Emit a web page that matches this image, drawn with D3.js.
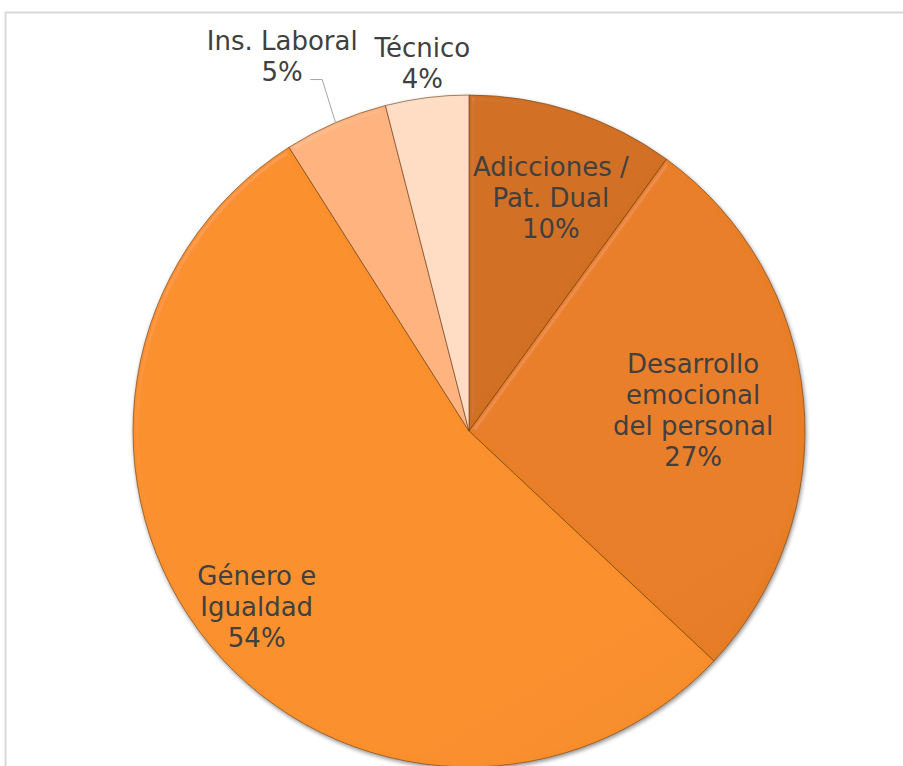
<!DOCTYPE html>
<html>
<head>
<meta charset="utf-8">
<script src="https://cdn.jsdelivr.net/npm/d3@7"></script>
<style>
  body { margin: 0; background: #fff; }
  text { font-family: "DejaVu Sans", Verdana, sans-serif; fill: #404040; }
</style>
</head>
<body>
<script>
const categories = ["Adicciones / Pat. Dual", "Desarrollo emocional del personal", "Género e Igualdad", "Ins. Laboral", "Técnico"];
const values = [10, 27, 54, 5, 4];
const labelLines = [["Adicciones /", "Pat. Dual"], ["Desarrollo", "emocional", "del personal"], ["Género e", "Igualdad"], ["Ins. Laboral"], ["Técnico"]];
const colors = ["#c6691f", "#dc7723", "#ee882a", "#f4aa78", "#fbd1b9"];

const width = 903, height = 766;
const cx = 469, cy = 431, radius = 336;

const svg = d3.select("body").append("svg")
  .attr("width", width)
  .attr("height", height);

// chart frame
svg.append("rect")
  .attr("x", 5.5).attr("y", 12.5)
  .attr("width", width + 10).attr("height", height + 10)
  .attr("fill", "none")
  .attr("stroke", "#d9d9d9")
  .attr("stroke-width", 2);

const defs = svg.append("defs");

const shadow = defs.append("filter").attr("id", "shadow")
  .attr("x", "-10%").attr("y", "-10%").attr("width", "120%").attr("height", "120%");
shadow.append("feGaussianBlur").attr("in", "SourceAlpha").attr("stdDeviation", 2).attr("result", "b");
shadow.append("feOffset").attr("in", "b").attr("dx", 1).attr("dy", 2).attr("result", "o");
shadow.append("feComponentTransfer").attr("in", "o").attr("result", "s")
  .append("feFuncA").attr("type", "linear").attr("slope", 0.45);
const sm = shadow.append("feMerge");
sm.append("feMergeNode").attr("in", "s");
sm.append("feMergeNode").attr("in", "SourceGraphic");

// soft bevel on each slice
const bevel = defs.append("filter").attr("id", "bevel")
  .attr("x", "-5%").attr("y", "-5%").attr("width", "110%").attr("height", "110%");
bevel.append("feGaussianBlur").attr("in", "SourceAlpha").attr("stdDeviation", 2.5).attr("result", "blur");
bevel.append("feSpecularLighting").attr("in", "blur").attr("surfaceScale", 4)
  .attr("specularConstant", 0.6).attr("specularExponent", 30)
  .attr("lighting-color", "#ffffff").attr("result", "spec")
  .append("feDistantLight").attr("azimuth", 225).attr("elevation", 40);
bevel.append("feComposite").attr("in", "spec").attr("in2", "SourceAlpha")
  .attr("operator", "in").attr("result", "specIn");
bevel.append("feComposite").attr("in", "SourceGraphic").attr("in2", "specIn")
  .attr("operator", "arithmetic").attr("k1", 0).attr("k2", 1).attr("k3", 0.12).attr("k4", 0);

colors.forEach((c, i) => {
  const g = defs.append("linearGradient").attr("id", "grad" + i)
    .attr("gradientUnits", "userSpaceOnUse")
    .attr("x1", cx - radius * 0.6).attr("y1", cy - radius)
    .attr("x2", cx + radius * 0.6).attr("y2", cy + radius);
  g.append("stop").attr("offset", "0%").attr("stop-color", d3.color(c).brighter(0.15));
  g.append("stop").attr("offset", "100%").attr("stop-color", d3.color(c).darker(0.15));
});

const pie = d3.pie().sort(null).value(d => d);
const arcs = pie(values);

const arc = d3.arc().innerRadius(0).outerRadius(radius);

const g = svg.append("g")
  .attr("transform", "translate(" + cx + "," + cy + ")");

const slices = g.append("g").attr("filter", "url(#shadow)");
slices.selectAll("path")
  .data(arcs)
  .enter().append("path")
  .attr("d", arc)
  .attr("fill", (d, i) => "url(#grad" + i + ")")
  .attr("stroke", "#6b3a12")
  .attr("stroke-opacity", 0.6)
  .attr("stroke-width", 1)
  .attr("filter", "url(#bevel)");

// label placement: radius factor and nudge for each slice's text
const labelR = [0.73, 0.67, 0.82, 1.25, 1.11];
const nudge = [[6, 0], [0, 0], [0, 0], [-20, 11], [0, 2]];
const lineH = 31;
const fmt = d => d + "%";
const centers = [];

arcs.forEach((d, i) => {
  const mid = (d.startAngle + d.endAngle) / 2;
  const x = Math.sin(mid) * radius * labelR[i] + nudge[i][0];
  const y = -Math.cos(mid) * radius * labelR[i] + nudge[i][1];
  centers.push([x, y]);
  const lines = labelLines[i].concat([fmt(values[i])]);
  const t = g.append("text")
    .attr("text-anchor", "middle")
    .attr("font-size", 26);
  const y0 = y - (lines.length - 1) * lineH / 2;
  lines.forEach((l, j) => {
    t.append("tspan").attr("x", x).attr("y", y0 + j * lineH).attr("dy", "0.36em").text(l);
  });
});

// leader line for Ins. Laboral
const ins = arcs[3];
const insMid = (ins.startAngle + ins.endAngle) / 2;
const px = Math.sin(insMid) * radius, py = -Math.cos(insMid) * radius;
const [lx, ly] = centers[3];
g.append("polyline")
  .attr("points", [[lx + 28, ly + 23], [lx + 40, ly + 23], [px, py]].map(p => p.join(",")).join(" "))
  .attr("fill", "none")
  .attr("stroke", "#a6a6a6")
  .attr("stroke-width", 1);
</script>
</body>
</html>
